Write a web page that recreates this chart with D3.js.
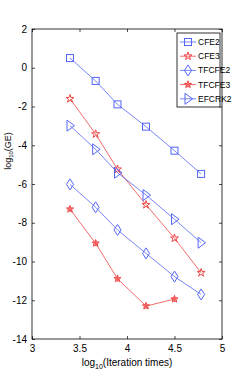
<!doctype html>
<html>
<head>
<meta charset="utf-8">
<script src="https://d3js.org/d3.v7.min.js"></script>
<style>
  body { margin: 0; background: #fff; }
  text { font-family: "Liberation Sans Narrow", "Liberation Sans", Arial, sans-serif; fill: #000; }
  .ylab { font-family: "Liberation Sans", Arial, sans-serif; }
</style>
</head>
<body>
<svg width="245" height="382"></svg>
<script>
var xs = [3.4, 3.67, 3.9, 4.2, 4.5, 4.78];
var cfe2 = [0.5, -0.68, -1.89, -3.04, -4.28, -5.48];
var cfe3 = [-1.6, -3.42, -5.24, -7.07, -8.8, -10.58];
var tfcfe2 = [-6.02, -7.2, -8.37, -9.58, -10.78, -11.7];
var tfcfe3 = [-7.3, -9.06, -10.89, -12.3, -11.94];
var efcrk2 = [-2.99, -4.21, -5.42, -6.57, -7.82, -9.03];
var names = ["CFE2", "CFE3", "TFCFE2", "TFCFE3", "EFCRK2"];
var xTicks = [3, 3.5, 4, 4.5, 5];
var yTicks = [2, 0, -2, -4, -6, -8, -10, -12, -14];

var blue = "#5466f5", red = "#f04848";
var series = [
  {name: names[0], vals: cfe2, color: blue, mark: "square"},
  {name: names[1], vals: cfe3, color: red, mark: "hexagram"},
  {name: names[2], vals: tfcfe2, color: blue, mark: "diamond"},
  {name: names[3], vals: tfcfe3, color: red, mark: "asterisk"},
  {name: names[4], vals: efcrk2, color: blue, mark: "triangle"}
];

var svg = d3.select("svg");
var x = d3.scaleLinear().domain([3, 5]).range([32, 222]);
var y = d3.scaleLinear().domain([-14, 2]).range([339, 29]);

// box
svg.append("rect").attr("x", 32).attr("y", 29).attr("width", 190).attr("height", 310)
  .attr("fill", "none").attr("stroke", "#000").attr("stroke-width", 0.8);

var fmt = function(d) { return String(d); };
var g = svg.append("g");
g.append("g").attr("transform", "translate(0,339)")
  .call(d3.axisBottom(x).tickValues(xTicks).tickSize(-3).tickPadding(6).tickFormat(fmt));
g.append("g").attr("transform", "translate(0,29)")
  .call(d3.axisTop(x).tickValues(xTicks).tickSize(-3).tickFormat(""));
g.append("g").attr("transform", "translate(32,0)")
  .call(d3.axisLeft(y).tickValues(yTicks).tickSize(-3).tickPadding(5).tickFormat(fmt));
g.append("g").attr("transform", "translate(222,0)")
  .call(d3.axisRight(y).tickValues(yTicks).tickSize(-3).tickFormat(""));
g.selectAll(".domain").remove();
g.selectAll(".tick line").attr("stroke", "#000").attr("stroke-width", 0.7);
g.selectAll(".tick text").attr("font-size", 10).attr("font-family", "'Liberation Sans Narrow', Arial, sans-serif");

function marker(sel, type, cx, cy, color) {
  if (type === "square") {
    sel.append("rect").attr("x", cx - 3.5).attr("y", cy - 3.5).attr("width", 7).attr("height", 7)
      .attr("fill", "none").attr("stroke", color);
  } else if (type === "diamond") {
    sel.append("path").attr("d", "M" + cx + "," + (cy - 5.5) + "L" + (cx + 3.5) + "," + cy + "L" + cx + "," + (cy + 5.5) + "L" + (cx - 3.5) + "," + cy + "Z")
      .attr("fill", "none").attr("stroke", color);
  } else if (type === "triangle") {
    sel.append("path").attr("d", "M" + (cx - 3) + "," + (cy - 5.5) + "L" + (cx + 4.5) + "," + cy + "L" + (cx - 3) + "," + (cy + 5.5) + "Z")
      .attr("fill", "none").attr("stroke", color);
  } else if (type === "hexagram") {
    sel.append("path").attr("d", d3.symbol(d3.symbolStar, 20)()).attr("transform", "translate(" + cx + "," + cy + ")")
      .attr("fill", "none").attr("stroke", color);
  } else if (type === "asterisk") {
    sel.append("path").attr("d", d3.symbol(d3.symbolStar, 16)()).attr("transform", "translate(" + cx + "," + cy + ")")
      .attr("fill", "none").attr("stroke", color);
    sel.append("path").attr("d", d3.symbol(d3.symbolAsterisk, 24)()).attr("transform", "translate(" + cx + "," + cy + ")")
      .attr("fill", "none").attr("stroke", color).attr("stroke-width", 0.8);
  }
}

var line = d3.line().x(function(d) { return x(d[0]); }).y(function(d) { return y(d[1]); });
series.forEach(function(s) {
  var pts = s.vals.map(function(v, i) { return [xs[i], v]; });
  svg.append("path").attr("d", line(pts)).attr("fill", "none").attr("stroke", s.color).attr("stroke-width", 0.8);
  var mg = svg.append("g");
  pts.forEach(function(p) { marker(mg, s.mark, x(p[0]), y(p[1]), s.color); });
});

// legend
var lg = svg.append("g");
lg.append("rect").attr("x", 177).attr("y", 33).attr("width", 43).attr("height", 74)
  .attr("fill", "#fff").attr("stroke", "#000").attr("stroke-width", 0.8);
series.forEach(function(s, i) {
  var ly = 42 + i * 14.2;
  lg.append("line").attr("x1", 180).attr("x2", 196).attr("y1", ly).attr("y2", ly)
    .attr("stroke", s.color).attr("stroke-width", 0.8);
  marker(lg, s.mark, 188, ly, s.color);
  lg.append("text").attr("x", 198).attr("y", ly + 3).attr("font-size", 8.5).text(s.name);
});

// axis labels
var xl = svg.append("text").attr("x", 127).attr("y", 366).attr("text-anchor", "middle").attr("font-size", 10);
xl.append("tspan").text("log");
xl.append("tspan").attr("font-size", 7).attr("dy", 3).text("10");
xl.append("tspan").attr("dy", -3).text("(Iteration times)");

var yl = svg.append("text").attr("class", "ylab").attr("transform", "translate(11,151) rotate(-90)")
  .attr("text-anchor", "middle").attr("font-size", 9);
yl.append("tspan").text("log");
yl.append("tspan").attr("font-size", 6).attr("dy", 2).text("10");
yl.append("tspan").attr("dy", -2).text("(GE)");
</script>
</body>
</html>
